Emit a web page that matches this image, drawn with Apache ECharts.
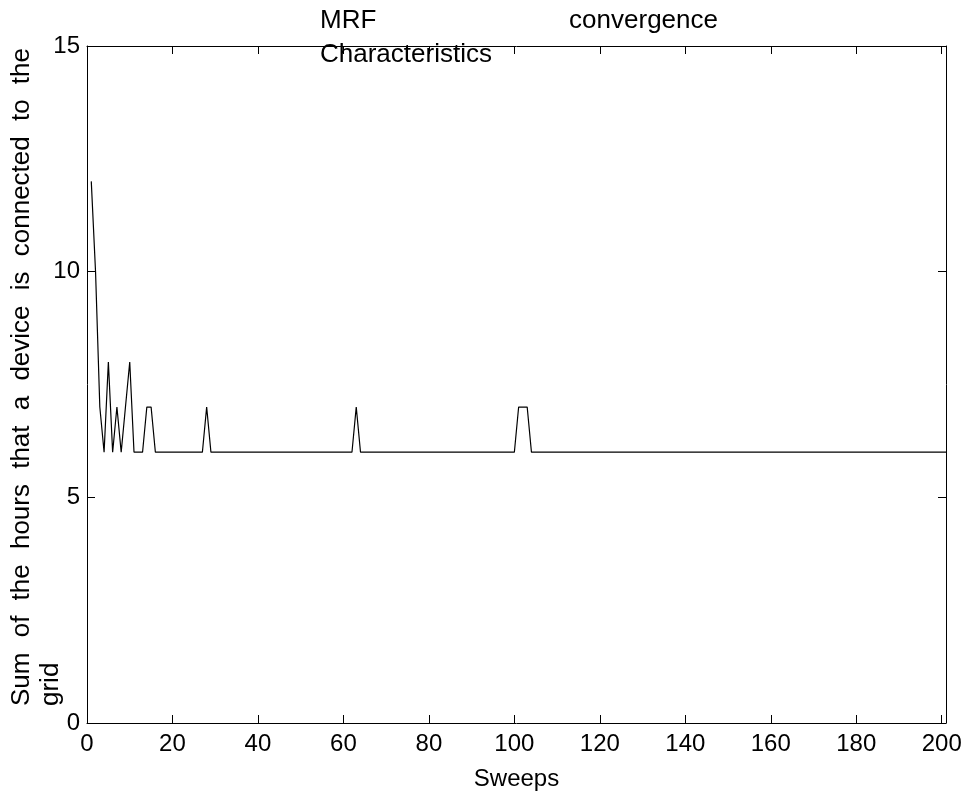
<!DOCTYPE html>
<html>
<head>
<meta charset="utf-8">
<script src="https://cdn.jsdelivr.net/npm/echarts@6/dist/echarts.min.js"></script>
<style>html,body{margin:0;padding:0;background:#fff;}#c{width:968px;height:796px;}</style>
</head>
<body>
<div id="c"></div>
<script>
// Sum of connected hours per sweep (sweeps 1..201)
const values = [
  12,10,7,6,8,6,7,6,7,8,
  6,6,6,7,7,6,6,6,6,6,
  6,6,6,6,6,6,6,7,6,6,
  6,6,6,6,6,6,6,6,6,6,
  6,6,6,6,6,6,6,6,6,6,
  6,6,6,6,6,6,6,6,6,6,
  6,6,7,6,6,6,6,6,6,6,
  6,6,6,6,6,6,6,6,6,6,
  6,6,6,6,6,6,6,6,6,6,
  6,6,6,6,6,6,6,6,6,6,
  7,7,7,6,6,6,6,6,6,6,
  6,6,6,6,6,6,6,6,6,6,
  6,6,6,6,6,6,6,6,6,6,
  6,6,6,6,6,6,6,6,6,6,
  6,6,6,6,6,6,6,6,6,6,
  6,6,6,6,6,6,6,6,6,6,
  6,6,6,6,6,6,6,6,6,6,
  6,6,6,6,6,6,6,6,6,6,
  6,6,6,6,6,6,6,6,6,6,
  6,6,6,6,6,6,6,6,6,6,
  6
];
const firstSweep = 1;
const xMin = 0, xMax = 201, xInterval = 20;
const yMin = 0, yMax = 15, yInterval = 5;
const xName = 'Sweeps';
const yLabelLine1 = ['Sum','of','the','hours','that','a','device','is','connected','to','the'];
const yLabelLine2 = 'grid';
const titleLine1Left = 'MRF';
const titleLine1Right = 'convergence';
const titleLine2 = 'Characteristics';

const FONT_FAMILY = '"Liberation Sans", Arial, Helvetica, sans-serif';
const FS = 24;     // tick labels, axis name
const FS2 = 26;    // title & y label
const data = values.map((v, i) => [firstSweep + i, v]);

// measure words for justified rotated y label
const ctx = document.createElement('canvas').getContext('2d');
ctx.font = FS2 + 'px ' + FONT_FAMILY;
const widths = yLabelLine1.map(w => ctx.measureText(w).width);
const yStart = 706, yEnd = 48;
const L = yStart - yEnd;
const totalW = widths.reduce((a, b) => a + b, 0);
const gap = (L - totalW) / (yLabelLine1.length - 1);
const graphics = [];
let s = 0;
yLabelLine1.forEach((w, i) => {
  graphics.push({
    type: 'text', x: 22, y: yStart - (s + widths[i] / 2), rotation: Math.PI / 2,
    style: { text: w, fontSize: FS2, fontFamily: FONT_FAMILY, fill: '#000', textAlign: 'center', textVerticalAlign: 'middle' }
  });
  s += widths[i] + gap;
});
const w2 = ctx.measureText(yLabelLine2).width;
graphics.push({
  type: 'text', x: 51, y: yStart - w2 / 2, rotation: Math.PI / 2,
  style: { text: yLabelLine2, fontSize: FS2, fontFamily: FONT_FAMILY, fill: '#000', textAlign: 'center', textVerticalAlign: 'middle' }
});
// title
graphics.push({ type: 'text', x: 320, y: 21, style: { text: titleLine1Left, fontSize: FS2, fontFamily: FONT_FAMILY, fill: '#000', textAlign: 'left', textVerticalAlign: 'middle' } });
graphics.push({ type: 'text', x: 718, y: 21, style: { text: titleLine1Right, fontSize: FS2, fontFamily: FONT_FAMILY, fill: '#000', textAlign: 'right', textVerticalAlign: 'middle' } });
graphics.push({ type: 'text', x: 320, y: 55, style: { text: titleLine2, fontSize: FS2, fontFamily: FONT_FAMILY, fill: '#000', textAlign: 'left', textVerticalAlign: 'middle' } });

const chart = echarts.init(document.getElementById('c'), null, { renderer: 'canvas' });
const axisLine = { show: true, onZero: false, lineStyle: { color: '#000', width: 1 } };
const tick = { show: true, inside: true, length: 8, lineStyle: { color: '#000', width: 1 } };
chart.setOption({
  animation: false,
  backgroundColor: '#fff',
  grid: { left: 87, right: 22, top: 46, bottom: 73, containLabel: false },
  xAxis: [
    { type: 'value', min: xMin, max: xMax, interval: xInterval, position: 'bottom',
      name: xName, nameLocation: 'middle', nameGap: 44,
      nameTextStyle: { fontSize: FS, fontFamily: FONT_FAMILY, color: '#000' },
      axisLine, axisTick: tick, splitLine: { show: false },
      axisLabel: { fontSize: FS, fontFamily: FONT_FAMILY, color: '#000', margin: 9, showMaxLabel: false } },
    { type: 'value', min: xMin, max: xMax, interval: xInterval, position: 'top',
      axisLine, axisTick: tick, splitLine: { show: false }, axisLabel: { show: false } }
  ],
  yAxis: [
    { type: 'value', min: yMin, max: yMax, interval: yInterval, position: 'left',
      axisLine, axisTick: tick, splitLine: { show: false },
      axisLabel: { fontSize: FS, fontFamily: FONT_FAMILY, color: '#000', margin: 7 } },
    { type: 'value', min: yMin, max: yMax, interval: yInterval, position: 'right',
      axisLine, axisTick: tick, splitLine: { show: false }, axisLabel: { show: false } }
  ],
  series: [{
    type: 'line', data: data, xAxisIndex: 0, yAxisIndex: 0,
    showSymbol: false, symbol: 'none',
    lineStyle: { color: '#000', width: 1.2 }
  }],
  graphic: graphics
});
</script>
</body>
</html>
